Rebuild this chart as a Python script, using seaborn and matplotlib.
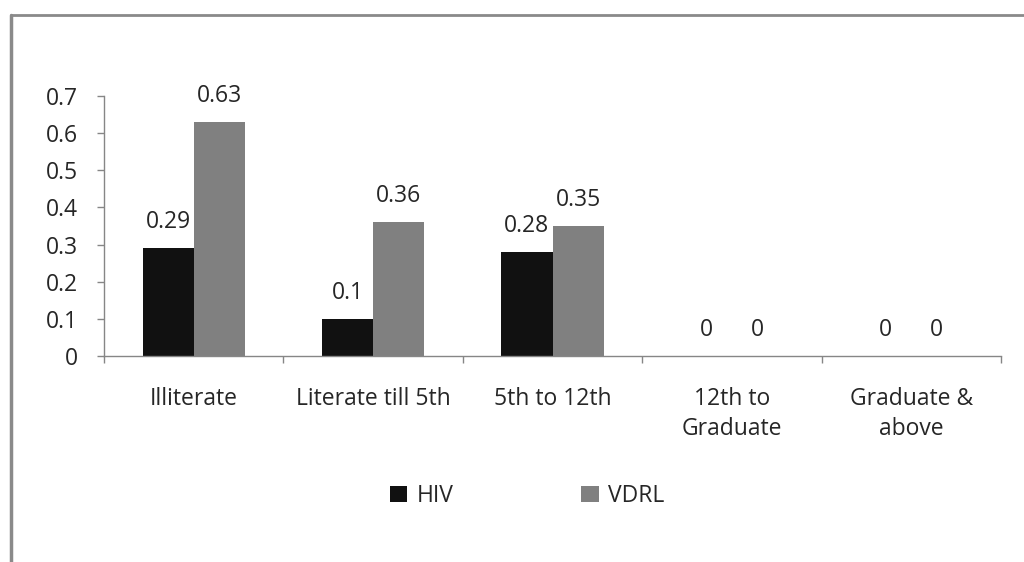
import pandas as pd
import matplotlib
matplotlib.use("Agg")
import matplotlib.pyplot as plt
import seaborn as sns
from matplotlib.lines import Line2D
from matplotlib.ticker import FixedLocator

# Data
categories = ["Illiterate", "Literate till 5th", "5th to 12th",
              "12th to\nGraduate", "Graduate &\nabove"]
hiv = [0.29, 0.1, 0.28, 0, 0]
vdrl = [0.63, 0.36, 0.35, 0, 0]
series = ["HIV", "VDRL"]
colors = ["#111111", "#808080"]
yticks = [0, 0.1, 0.2, 0.3, 0.4, 0.5, 0.6, 0.7]

df = pd.DataFrame({
    "category": categories * 2,
    "value": hiv + vdrl,
    "series": ["HIV"] * len(categories) + ["VDRL"] * len(categories),
})

sns.set_style("white")
plt.rcParams["font.family"] = ["Open Sans", "DejaVu Sans"]
FS = 16.5

fig = plt.figure(figsize=(10.24, 5.62), dpi=100)
ax = fig.add_axes([104 / 1024, 1 - 356 / 562, (1001 - 104) / 1024, (356 - 96) / 562])

sns.barplot(data=df, x="category", y="value", hue="series", palette=colors,
            width=0.57, gap=0, saturation=1, linewidth=0, ax=ax, legend=True)

for cont in ax.containers:
    labels = [f"{v:g}" for v in cont.datavalues]
    ax.bar_label(cont, labels=labels, padding=10, fontsize=FS)

ax.set_xlim(-0.5, len(categories) - 0.5)
ax.set_ylim(0, 0.7)
ax.set_yticks(yticks)
ax.set_yticklabels([f"{t:g}" for t in yticks])
ax.set_xlabel("")
ax.set_ylabel("")

for side in ["top", "right"]:
    ax.spines[side].set_visible(False)
for side in ["left", "bottom"]:
    ax.spines[side].set_color("#868686")
    ax.spines[side].set_linewidth(1)

ax.tick_params(axis="y", which="major", left=True, length=5, color="#868686",
               width=1, pad=14, labelsize=FS)
ax.tick_params(axis="x", which="major", bottom=False, length=0, pad=22, labelsize=FS)
for lbl in ax.get_xticklabels():
    lbl.set_linespacing(1.35)
ax.xaxis.set_minor_locator(FixedLocator([i - 0.5 for i in range(len(categories) + 1)]))
ax.tick_params(axis="x", which="minor", bottom=True, length=5, color="#868686", width=1)

ax.legend(handles=ax.get_legend().legend_handles, labels=series,
          loc="center", bbox_to_anchor=(527 / 1024, 1 - 496 / 562),
          bbox_transform=fig.transFigure, ncol=2, frameon=False, fontsize=FS,
          handlelength=0.75, handleheight=0.75, handletextpad=0.4, columnspacing=5.6)

# outer chart frame (top and left edges)
fig.add_artist(Line2D([11 / 1024, 1], [1 - 15 / 562, 1 - 15 / 562],
                      transform=fig.transFigure, color="#8a8a8a", linewidth=2))
fig.add_artist(Line2D([11 / 1024, 11 / 1024], [0, 1 - 15 / 562],
                      transform=fig.transFigure, color="#8a8a8a", linewidth=2.5))

fig.savefig("out.png", dpi=100)
